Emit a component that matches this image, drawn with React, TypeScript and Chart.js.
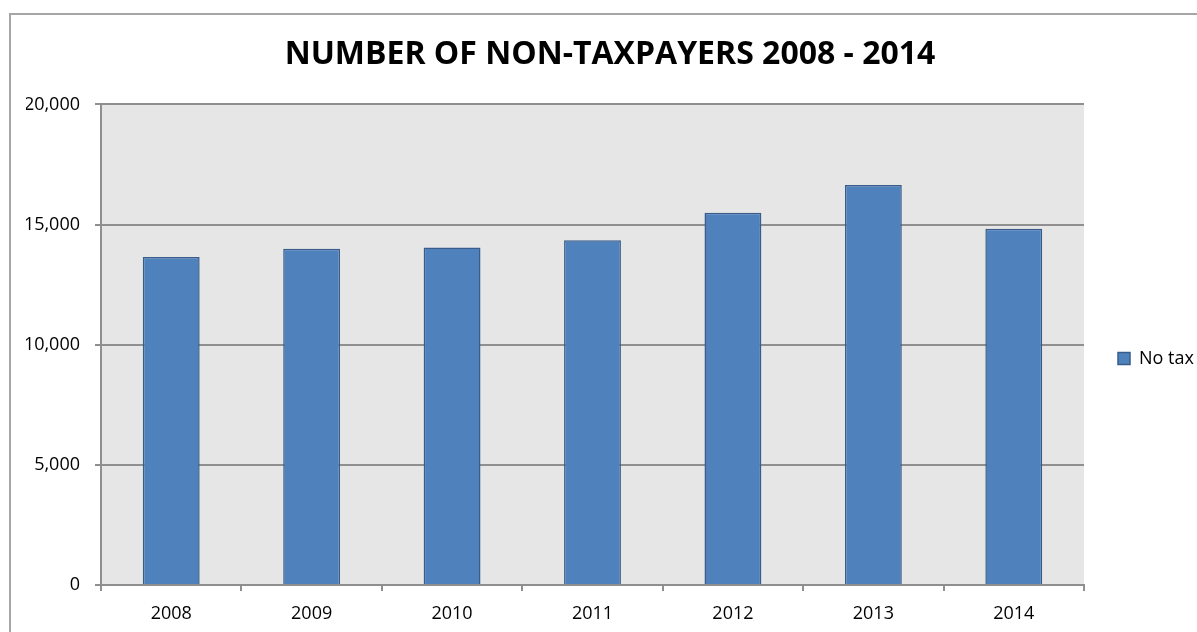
import React, { useEffect, useRef } from "react";
import { Chart, registerables } from "chart.js";

Chart.register(...registerables);

const categories = ["2008", "2009", "2010", "2011", "2012", "2013", "2014"];
const noTaxValues = [13650, 13990, 14050, 14350, 15490, 16650, 14830];
const yTicks = [0, 5000, 10000, 15000, 20000];
const seriesName = "No tax";
const chartTitle = "NUMBER OF NON-TAXPAYERS 2008 - 2014";

const FONT = "'Open Sans', 'Liberation Sans', sans-serif";
const GRID = "#8f8f8f";

const plotBg = {
  id: "plotBg",
  beforeDraw(chart: any) {
    const { ctx, chartArea } = chart;
    ctx.save();
    ctx.fillStyle = "#e6e6e6";
    ctx.fillRect(chartArea.left, chartArea.top, chartArea.right - chartArea.left, chartArea.bottom - chartArea.top);
    ctx.restore();
  },
};

export default function App() {
  const ref = useRef<HTMLCanvasElement | null>(null);

  useEffect(() => {
    document.documentElement.style.overflow = "hidden";
    document.body.style.overflow = "hidden";
    if (!ref.current) return;
    const chart = new Chart(ref.current, {
      type: "bar",
      data: {
        labels: categories,
        datasets: [
          {
            label: seriesName,
            data: noTaxValues,
            backgroundColor: "#4f81bd",
            borderColor: "#385d8a",
            borderWidth: 1.5,
            categoryPercentage: 0.405,
            barPercentage: 1,
          },
        ],
      },
      options: {
        animation: false,
        responsive: false,
        maintainAspectRatio: false,
        layout: { padding: { left: 15, right: 15, top: 0, bottom: 0 } },
        plugins: {
          tooltip: { enabled: false },
          title: {
            display: true,
            text: chartTitle,
            color: "#000",
            font: { family: FONT, size: 32, weight: "bold", lineHeight: 1.2 },
            padding: { top: 21, bottom: 30 },
          },
          legend: {
            position: "right",
            maxWidth: 110,
            title: { display: true, text: "", font: { size: 10, lineHeight: 1 }, padding: { top: 30, bottom: 30 } },
            labels: {
              color: "#000",
              font: { family: FONT, size: 18 },
              boxWidth: 12,
              boxHeight: 12,
              padding: 34,
            },
          },
        },
        scales: {
          x: {
            offset: true,
            grid: { display: true, drawOnChartArea: false, drawTicks: true, tickLength: 6, color: GRID, lineWidth: 2, offset: true },
            border: { display: true, color: GRID, width: 2 },
            ticks: { color: "#000", font: { family: FONT, size: 18, lineHeight: 1.2 }, padding: 12, maxRotation: 0 },
            afterFit: (s: any) => { s.height = 47; },
          },
          y: {
            min: 0,
            max: 20000,
            afterBuildTicks: (s: any) => { s.ticks = yTicks.map((v) => ({ value: v })); },
            grid: { color: GRID, lineWidth: 2, tickLength: 6, drawTicks: true },
            border: { display: true, color: GRID, width: 2 },
            ticks: {
              color: "#000",
              font: { family: FONT, size: 18 },
              padding: 15,
              callback: (v: any) => Number(v).toLocaleString("en-US"),
            },
            afterFit: (s: any) => { s.width = 75; },
          },
        },
      },
      plugins: [plotBg],
    } as any);
    return () => chart.destroy();
  }, []);

  return (
    <div
      style={{
        position: "fixed",
        left: 9,
        top: 13,
        width: 1400,
        height: 800,
        borderLeft: "2px solid #a6a6a6",
        borderTop: "2px solid #a6a6a6",
        background: "#fff",
      }}
    >
      <canvas ref={ref} width={1198} height={617} style={{ display: "block", width: 1198, height: 617 }} />
    </div>
  );
}
